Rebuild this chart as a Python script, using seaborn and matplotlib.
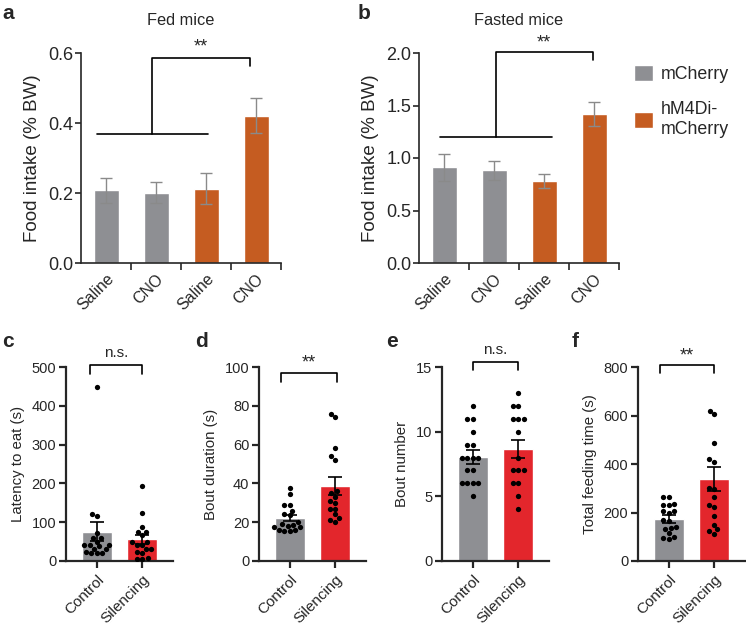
import numpy as np
import pandas as pd
import matplotlib
matplotlib.use("Agg")
import matplotlib.pyplot as plt
from matplotlib.patches import Patch
import seaborn as sns

# panels a, b: food intake (% body weight) after saline / CNO
groups = ["mCherry", "mCherry", "hM4Di-mCherry", "hM4Di-mCherry"]
treatments = ["Saline", "CNO", "Saline", "CNO"]
fed_mean = [0.208, 0.201, 0.212, 0.421]
fed_sem = [0.036, 0.030, 0.044, 0.050]
fasted_mean = [0.91, 0.885, 0.78, 1.42]
fasted_sem = [0.13, 0.09, 0.07, 0.115]

# panels c-f: control vs silencing
conditions = ["Control", "Silencing"]

latency_mean = [76, 56]
latency_sem = [25, 12]
latency_control = [449, 120, 116, 71, 60, 58, 50, 41, 41, 40, 38, 32, 30, 20, 20, 20, 22]
latency_silencing = [194, 125, 88, 76, 75, 66, 50, 48, 41, 40, 30, 30, 22, 20, 8, 6, 5]

bout_dur_mean = [22.3, 38.7]
bout_dur_sem = [1.6, 4.6]
bout_dur_control = [37.5, 34.5, 29, 29, 26, 24, 23.5, 20, 19, 18.5, 18, 17.5, 17.5, 16, 16, 15.5, 15.5]
bout_dur_silencing = [76, 74, 58, 54, 52, 36, 35, 33, 31, 30, 27, 27, 24, 22, 21, 20]

bout_num_mean = [8.05, 8.67]
bout_num_sem = [0.55, 0.7]
bout_num_control = [12, 11, 11, 10, 9, 9, 8, 8, 8, 8, 7, 7, 6, 6, 6, 6, 5]
bout_num_silencing = [13, 12, 12, 11, 11, 11, 10, 8, 7, 7, 7, 6, 6, 5, 4]

feed_mean = [173, 338]
feed_sem = [16, 48]
feed_control = [265, 262, 236, 232, 230, 208, 205, 200, 168, 165, 140, 135, 130, 115, 100, 96, 92]
feed_silencing = [620, 607, 485, 420, 410, 300, 295, 262, 232, 224, 186, 149, 131, 124, 113]

GRAY = "#8e8f93"
ORANGE = "#c55c21"
RED = "#e3262c"

sns.set_theme(style="ticks")
plt.rcParams["font.family"] = ["Liberation Sans", "DejaVu Sans"]
plt.rcParams["axes.linewidth"] = 1.2

W, H = 746, 626
fig = plt.figure(figsize=(W / 100, H / 100), dpi=100)


def add_ax(left, top, right, bottom):
    return fig.add_axes([left / W, 1 - bottom / H, (right - left) / W, (bottom - top) / H])


def intake_panel(ax, means, sems, ymax, step, title):
    keys = [g + " " + t for g, t in zip(groups, treatments)]
    df = pd.DataFrame({"bar": keys, "group": groups, "intake": means})
    sns.barplot(data=df, x="bar", y="intake", hue="group", order=keys,
                palette={"mCherry": GRAY, "hM4Di-mCherry": ORANGE},
                width=0.5, saturation=1, legend=False, ax=ax)
    ax.errorbar(np.arange(len(means)), means, yerr=sems, fmt="none",
                ecolor="#8a8a8a", elinewidth=1, capsize=4.5, capthick=1)
    ax.set_xlim(-0.5, 3.5)
    ax.set_ylim(0, ymax)
    ax.set_yticks(np.arange(0, ymax + step / 2, step))
    ax.yaxis.set_major_formatter("{x:.1f}")
    ax.set_xticks(range(4))
    ax.set_xticklabels(treatments, rotation=45, ha="right", rotation_mode="anchor")
    ax.set_xticks([0.5, 1.5, 2.5, 3.5], minor=True)
    ax.tick_params(axis="x", which="major", length=0, labelsize=11.5, pad=6)
    ax.tick_params(axis="x", which="minor", length=5, width=1.2)
    ax.tick_params(axis="y", length=4, width=1.2, labelsize=13, pad=1.5)
    ax.set_xlabel("")
    ax.set_ylabel("Food intake (% BW)", fontsize=13.5, labelpad=5)
    ax.set_title(title, fontsize=11.8, pad=20)
    sns.despine(ax=ax)


def sig_group(ax, left, right, mid, low, top, end, drop, ty):
    kw = dict(color="black", lw=1.2, clip_on=False)
    ax.plot([left, right], [low, low], **kw)
    ax.plot([mid, mid, end, end], [low, top, top, top - drop], **kw)
    ax.text((mid + end) / 2, ty, "**", ha="center", va="center", fontsize=13)


def behaviour_panel(ax, means, sems, ctrl, sil, ymax, step, ylabel):
    bars = pd.DataFrame({"condition": conditions, "value": means})
    sns.barplot(data=bars, x="condition", y="value", hue="condition",
                palette=[GRAY, RED], width=0.67, saturation=1, legend=False, ax=ax)
    pts = pd.DataFrame({"condition": ["Control"] * len(ctrl) + ["Silencing"] * len(sil),
                        "value": ctrl + sil})
    sns.swarmplot(data=pts, x="condition", y="value", order=conditions,
                  color="black", size=3.8, ax=ax)
    ax.errorbar(np.arange(2), means, yerr=sems, fmt="none", ecolor="black",
                elinewidth=1.2, capsize=5, capthick=1.2, zorder=4)
    ax.set_xlim(-0.68, 1.68)
    ax.set_ylim(0, ymax)
    ax.set_yticks(np.arange(0, ymax + step / 2, step))
    ax.set_xticks([0, 1])
    ax.set_xticklabels(conditions, rotation=45, ha="right", rotation_mode="anchor")
    for s in ("left", "bottom"):
        ax.spines[s].set_linewidth(1.6)
    ax.tick_params(axis="x", length=5, width=1.6, labelsize=11, pad=3)
    ax.tick_params(axis="y", length=5, width=1.6, labelsize=10.5, pad=2)
    ax.set_xlabel("")
    ax.set_ylabel(ylabel, fontsize=10.8, labelpad=5)
    sns.despine(ax=ax)


def bracket(ax, x0, x1, y, drop, text, ty, size=11):
    ax.plot([x0, x0, x1, x1], [y - drop, y, y, y - drop], color="black", lw=1.2, clip_on=False)
    ax.text((x0 + x1) / 2, ty, text, ha="center", va="center", fontsize=size)


# top row
ax_a = add_ax(81, 53, 281, 263)
intake_panel(ax_a, fed_mean, fed_sem, 0.6, 0.2, "Fed mice")
sig_group(ax_a, -0.18, 2.04, 0.92, 0.369, 0.587, 2.87, 0.024, 0.617)

ax_b = add_ax(419, 53, 619, 263)
intake_panel(ax_b, fasted_mean, fasted_sem, 2.0, 0.5, "Fasted mice")
sig_group(ax_b, -0.08, 2.15, 1.04, 1.2, 2.01, 2.97, 0.08, 2.1)

fig.legend(handles=[Patch(facecolor=GRAY, label="mCherry"),
                    Patch(facecolor=ORANGE, label="hM4Di-\nmCherry")],
           loc="upper left", bbox_to_anchor=(634 / W, 1 - 65 / H), frameon=False,
           fontsize=12.8, handlelength=1.05, handleheight=1.05, handletextpad=0.45,
           labelspacing=1.0, borderpad=0, borderaxespad=0)

# bottom row
ax_c = add_ax(66, 367, 173, 561)
behaviour_panel(ax_c, latency_mean, latency_sem, latency_control, latency_silencing,
                500, 100, "Latency to eat (s)")
bracket(ax_c, -0.15, 1.0, 506, 24, "n.s.", 535)

ax_d = add_ax(259, 367, 366, 561)
behaviour_panel(ax_d, bout_dur_mean, bout_dur_sem, bout_dur_control, bout_dur_silencing,
                100, 20, "Bout duration (s)")
bracket(ax_d, -0.2, 1.05, 97, 4.5, "**", 102, size=13)

ax_e = add_ax(442, 367, 549, 561)
behaviour_panel(ax_e, bout_num_mean, bout_num_sem, bout_num_control, bout_num_silencing,
                15, 5, "Bout number")
bracket(ax_e, 0.0, 1.0, 15.4, 0.6, "n.s.", 16.3)

ax_f = add_ax(638, 367, 745, 561)
behaviour_panel(ax_f, feed_mean, feed_sem, feed_control, feed_silencing,
                800, 200, "Total feeding time (s)")
bracket(ax_f, -0.2, 1.0, 810, 35, "**", 845, size=13)

# panel letters
for letter, x, y in [("a", 2, 4), ("b", 358, 4), ("c", 2, 332), ("d", 195, 332),
                     ("e", 386, 332), ("f", 572, 332)]:
    fig.text(x / W, 1 - y / H, letter, ha="left", va="top", fontsize=15, fontweight="bold")

fig.savefig("out.png", dpi=100)
